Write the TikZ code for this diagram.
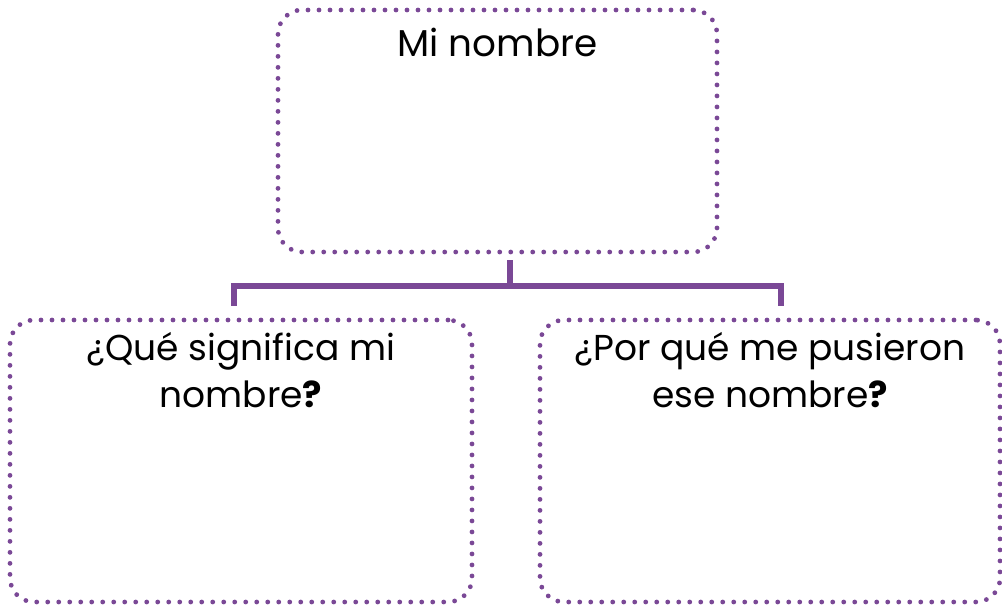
\documentclass[tikz,border=0pt]{standalone}
\usepackage{fontspec}
\setmainfont{Poppins}
\usetikzlibrary{positioning}
\definecolor{lila}{HTML}{7A4896}
\tikzset{
  box/.style={draw=lila, line width=3.6pt, dash pattern=on 0pt off 8.25pt, line cap=round, rounded corners=18pt, inner sep=0pt},
  link/.style={draw=lila, line width=4.5pt},
  title/.style={font=\fontsize{27}{35}\selectfont, align=center, inner sep=0pt}
}
\begin{document}
\begin{tikzpicture}[x=0.75pt, y=-0.75pt]
  \useasboundingbox (0,0) rectangle (1002,604);
  % Boxes
  \node[box, minimum width=439*0.75pt, minimum height=242*0.75pt] (top) at (497.5,131) {};
  \node[box, minimum width=462*0.75pt, minimum height=282*0.75pt] (left) at (241,461) {};
  \node[box, minimum width=460*0.75pt, minimum height=282*0.75pt] (right) at (770,461) {};

  % Texts
  \node[title, font=\fontsize{28}{35}\selectfont, below=15pt of top.north] (ttop) {Mi nombre};
  \node[title, below=11pt of left.north] (tleft) {¿Qué significa mi\\nombre\textbf{?}};
  \node[title, below=11pt of right.north] (tright) {¿Por qué me pusieron\\ese nombre\textbf{?}};

  % Links
  \coordinate (hub) at (510,286);
  \coordinate (jl) at (234,286);
  \coordinate (jr) at (781,286);
  \draw[link, shorten <=4.5pt] (hub |- top.south) -- (hub);
  \draw[link] ([xshift=-2.25pt]jl) -- ([xshift=2.25pt]jr);
  \draw[link, shorten >=9pt] (jl) -- (jl |- left.north);
  \draw[link, shorten >=9pt] (jr) -- (jr |- right.north);
\end{tikzpicture}
\end{document}
